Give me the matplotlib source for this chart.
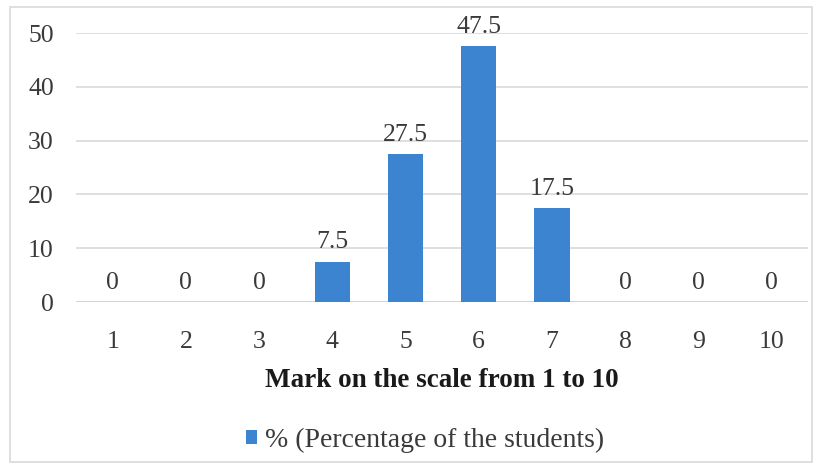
import matplotlib.pyplot as plt
from matplotlib.patches import Rectangle

marks = ['1', '2', '3', '4', '5', '6', '7', '8', '9', '10']
percent = [0, 0, 0, 7.5, 27.5, 47.5, 17.5, 0, 0, 0]
value_labels = ['0', '0', '0', '7.5', '27.5', '47.5', '17.5', '0', '0', '0']
yticks = [0, 10, 20, 30, 40, 50]

plt.rcParams['font.family'] = ['Liberation Serif', 'DejaVu Serif']

fig = plt.figure(figsize=(8.18, 4.69), dpi=100)
fig.patches.append(Rectangle((10 / 818, 7 / 469), 802 / 818, 455 / 469,
                             transform=fig.transFigure, fill=False,
                             edgecolor='#d9d9d9', linewidth=1.2))

ax = fig.add_axes([0.093, 0.356, 0.895, 0.5736])
x = range(len(marks))
bars = ax.bar(x, percent, width=0.48, color='#3d84d0', zorder=3)

for b, lab in zip(bars, value_labels):
    ax.annotate(lab, (b.get_x() + b.get_width() / 2, b.get_height()),
                xytext=(0, 6), textcoords='offset points',
                ha='center', va='bottom', fontsize=18.5, color='#3a3a3a')

ax.set_xlim(-0.5, len(marks) - 0.5)
ax.set_ylim(0, 50)
ax.set_yticks(yticks)
ax.set_xticks(list(x))
ax.set_xticklabels(marks)
ax.tick_params(axis='both', length=0, labelsize=18.5, labelcolor='#3a3a3a')
ax.tick_params(axis='x', pad=21)
ax.tick_params(axis='y', pad=16)
ax.grid(axis='y', color='#d9d9d9', linewidth=1.2, zorder=0)
for s in ax.spines.values():
    s.set_visible(False)
ax.axhline(0, color='#d0d0d0', linewidth=1.2, zorder=2)

ax.set_xlabel('Mark on the scale from 1 to 10', fontsize=19.5,
              fontweight='bold', color='#1a1a1a', labelpad=11)

leg = ax.legend([bars[4]], ['% (Percentage of the students)'],
                loc='center', bbox_to_anchor=(0.477, -0.515), frameon=False,
                fontsize=20, handlelength=0.4, handleheight=0.4,
                handletextpad=0.3)
for t in leg.get_texts():
    t.set_color('#3a3a3a')

fig.savefig('out.png', dpi=100)
